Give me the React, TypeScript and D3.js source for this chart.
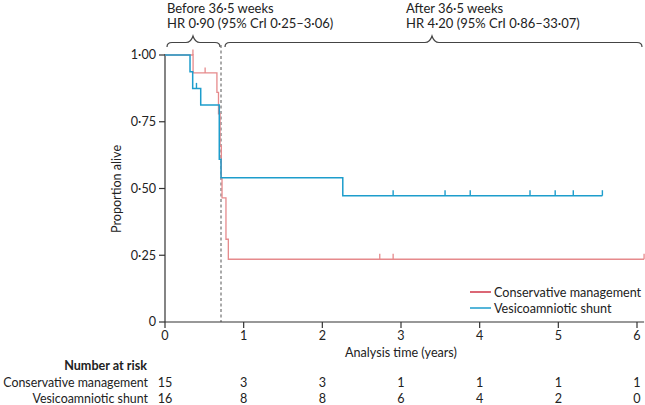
import React from "react";
import * as d3 from "d3";

// ---- data ----
const yTicks = [0, 0.25, 0.5, 0.75, 1];
const yTickLabels = ["0", "0·25", "0·50", "0·75", "1·00"];
const xTicks = [0, 1, 2, 3, 4, 5, 6];

// Kaplan-Meier steps: [time, survival after time]
const shuntSteps: [number, number][] = [
  [0, 1.0],
  [0.318, 0.9375],
  [0.352, 0.875],
  [0.454, 0.8125],
  [0.69, 0.61],
  [0.712, 0.54],
  [2.26, 0.473],
  [5.56, 0.473],
];
const shuntCensor: [number, number][] = [
  [0.4, 0.875],
  [2.9, 0.473],
  [3.56, 0.473],
  [3.88, 0.473],
  [4.64, 0.473],
  [4.96, 0.473],
  [5.19, 0.473],
  [5.56, 0.473],
];

const consSteps: [number, number][] = [
  [0, 1.0],
  [0.357, 0.933],
  [0.66, 0.86],
  [0.68, 0.78],
  [0.7, 0.66],
  [0.716, 0.54],
  [0.725, 0.465],
  [0.775, 0.31],
  [0.805, 0.235],
  [6.09, 0.235],
];
const consCensor: [number, number][] = [
  [0.355, 1.0],
  [0.51, 0.933],
  [2.73, 0.235],
  [2.9, 0.235],
  [6.09, 0.235],
];

const riskYears = [0, 1, 2, 3, 4, 5, 6];
const riskCons = [15, 3, 3, 1, 1, 1, 1];
const riskShunt = [16, 8, 8, 6, 4, 2, 0];

const cutoff = 0.712;
const xMax = 6.09;

const BLUE = "#1d9dcc";
const RED = "#e68a8c";
const RED_LEGEND = "#cf3447";
const FONT = "Lato, 'Open Sans', sans-serif";

function stepPath(steps: [number, number][], x: d3.ScaleLinear<number, number>, y: d3.ScaleLinear<number, number>) {
  const line = d3
    .line<[number, number]>()
    .x((d) => x(d[0]))
    .y((d) => y(d[1]))
    .curve(d3.curveStepAfter);
  return line(steps) || "";
}

function brace(x1: number, x2: number, xm: number, yb: number, peak: number, curl: number) {
  return `M${x1},${yb + curl} Q${x1},${yb} ${x1 + 5},${yb} L${xm - 7},${yb} Q${xm - 2},${yb} ${xm},${yb - peak} Q${xm + 2},${yb} ${xm + 7},${yb} L${x2 - 5},${yb} Q${x2},${yb} ${x2},${yb + curl}`;
}

export default function App() {
  const W = 645;
  const H = 405;
  const x = d3.scaleLinear().domain([0, 6]).range([165, 637]);
  const y = d3.scaleLinear().domain([0, 1]).range([322, 55]);
  const fs = 12.6;
  const fsTop = 13;

  return (
    <svg width={W} height={H} style={{ position: "absolute", left: 0, top: 0 }} fontFamily={FONT}>
      <rect width={W} height={H} fill="#fff" />
      {/* annotations */}
      <text x={167} y={12.5} fontSize={fsTop} fill="#222">Before 36·5 weeks</text>
      <text x={167} y={28} fontSize={fsTop} fill="#222">HR 0·90 (95% CrI 0·25–3·06)</text>
      <text x={406} y={12.5} fontSize={fsTop} fill="#222">After 36·5 weeks</text>
      <text x={406} y={28} fontSize={fsTop} fill="#222">HR 4·20 (95% CrI 0·86–33·07)</text>
      <path d={brace(167, 220, 193, 42.5, 6.5, 4.5)} fill="none" stroke="#444" strokeWidth={1.2} />
      <path d={brace(225, 642, 432, 42.5, 6.5, 4.5)} fill="none" stroke="#444" strokeWidth={1.2} />

      {/* dashed cutoff */}
      <line x1={x(cutoff)} x2={x(cutoff)} y1={45} y2={y(0)} stroke="#555" strokeWidth={1} strokeDasharray="3,2.5" />

      {/* axes */}
      <line x1={x(0)} x2={x(0)} y1={y(1) - 1} y2={y(0)} stroke="#333" strokeWidth={1.2} />
      <line x1={x(0)} x2={x(xMax)} y1={y(0)} y2={y(0)} stroke="#333" strokeWidth={1.2} />
      {yTicks.map((t, i) => (
        <g key={"y" + t}>
          <line x1={x(0) - 6} x2={x(0)} y1={y(t)} y2={y(t)} stroke="#333" strokeWidth={1.2} />
          <text x={x(0) - 9} y={y(t) + 4.3} fontSize={fs} textAnchor="end" fill="#222">{yTickLabels[i]}</text>
        </g>
      ))}
      {xTicks.map((t) => (
        <g key={"x" + t}>
          <line x1={x(t)} x2={x(t)} y1={y(0)} y2={y(0) + 6} stroke="#333" strokeWidth={1.2} />
          <text x={x(t)} y={340} fontSize={fs} textAnchor="middle" fill="#222">{t}</text>
        </g>
      ))}
      <text x={x(3)} y={357} fontSize={fs} textAnchor="middle" fill="#222">Analysis time (years)</text>
      <text transform={`translate(121,189) rotate(-90)`} fontSize={fs} textAnchor="middle" fill="#222">Proportion alive</text>

      {/* curves */}
      <path d={stepPath(consSteps, x, y)} fill="none" stroke={RED} strokeWidth={1.3} />
      <path d={stepPath(shuntSteps, x, y)} fill="none" stroke={BLUE} strokeWidth={1.5} />
      {consCensor.map((c, i) => (
        <line key={"cc" + i} x1={x(c[0])} x2={x(c[0])} y1={y(c[1])} y2={y(c[1]) - 5.5} stroke={RED} strokeWidth={1.3} />
      ))}
      {shuntCensor.map((c, i) => (
        <line key={"sc" + i} x1={x(c[0])} x2={x(c[0])} y1={y(c[1])} y2={y(c[1]) - 5.5} stroke={BLUE} strokeWidth={1.4} />
      ))}

      {/* legend */}
      <line x1={470} x2={491} y1={292} y2={292} stroke={RED_LEGEND} strokeWidth={1.5} />
      <text x={494} y={296.5} fontSize={fs} fill="#222">Conservative management</text>
      <line x1={470} x2={491} y1={308} y2={308} stroke={BLUE} strokeWidth={1.5} />
      <text x={494} y={312.5} fontSize={fs} fill="#222">Vesicoamniotic shunt</text>

      {/* number at risk */}
      <text x={147} y={370} fontSize={fs} fontWeight="bold" textAnchor="end" fill="#222">Number at risk</text>
      <text x={148} y={386.5} fontSize={12.4} textAnchor="end" fill="#222">Conservative management</text>
      <text x={148} y={402.5} fontSize={12.4} textAnchor="end" fill="#222">Vesicoamniotic shunt</text>
      {riskYears.map((t, i) => (
        <g key={"r" + t}>
          <text x={x(t)} y={386.5} fontSize={fs} textAnchor="middle" fill="#222">{riskCons[i]}</text>
          <text x={x(t)} y={402.5} fontSize={fs} textAnchor="middle" fill="#222">{riskShunt[i]}</text>
        </g>
      ))}
    </svg>
  );
}
